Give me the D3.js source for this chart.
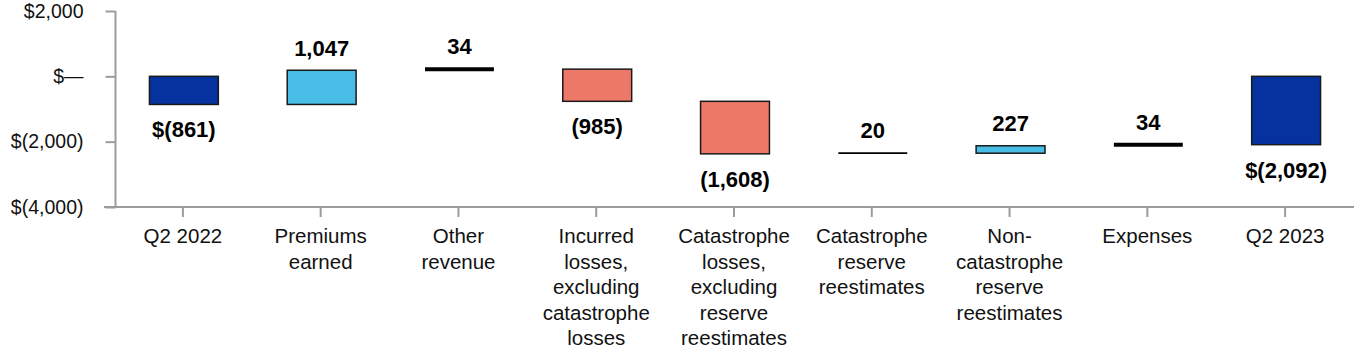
<!DOCTYPE html>
<html>
<head>
<meta charset="utf-8">
<script src="https://cdn.jsdelivr.net/npm/d3@7"></script>
<style>
  html, body { margin: 0; padding: 0; background: #fff; }
  svg { display: block; }
  text { font-family: "Liberation Sans", Arial, Helvetica, sans-serif; }
</style>
</head>
<body>
<svg id="chart" width="1364" height="360"></svg>
<script>
// ---- data ----
const categories = [
  ["Q2 2022"],
  ["Premiums", "earned"],
  ["Other", "revenue"],
  ["Incurred", "losses,", "excluding", "catastrophe", "losses"],
  ["Catastrophe", "losses,", "excluding", "reserve", "reestimates"],
  ["Catastrophe", "reserve", "reestimates"],
  ["Non-", "catastrophe", "reserve", "reestimates"],
  ["Expenses"],
  ["Q2 2023"]
];
const values = [-861, 1047, 34, -985, -1608, 20, 227, 34, -2092];
const kinds = ["total", "up", "up", "down", "down", "up", "up", "up", "total"];
const valueLabels = ["$(861)", "1,047", "34", "(985)", "(1,608)", "20", "227", "34", "$(2,092)"];
const yTicks = [2000, 0, -2000, -4000];
const yTickLabels = ["$2,000", "$\u2014", "$(2,000)", "$(4,000)"];

// ---- layout ----
const svg = d3.select("#chart");
const keys = categories.map(c => c.join(" "));
const x = d3.scaleBand().domain(keys).range([114, 1354]).padding(0);
const y = d3.scaleLinear().domain([-4000, 2000]).range([207, 11]);

const colors = { total: "#0632a0", up: "#48bde6", down: "#ee7868" };
const thin = new Set(["Other revenue", "Catastrophe reserve reestimates", "Expenses"]);
const lineWidth = { "Other revenue": 4, "Catastrophe reserve reestimates": 1.8, "Expenses": 4 };

// compute waterfall segments
let running = 0;
const bars = values.map((v, i) => {
  let start, end;
  if (kinds[i] === "total") { start = 0; end = v; running = v; }
  else { start = running; end = running + v; running = end; }
  return { key: keys[i], v, start, end, kind: kinds[i], label: valueLabels[i] };
});

// axes
const axisColor = "#9c9c9c";
const yAxis = d3.axisLeft(y).tickValues(yTicks).tickFormat((d, i) => yTickLabels[i]).tickSize(10).tickPadding(22);
const gy = svg.append("g").attr("transform", "translate(115.5,0)").call(yAxis);
gy.select(".domain").attr("stroke", axisColor).attr("stroke-width", 2).attr("d", `M0,${y(2000)}V${y(-4000)}`);
gy.selectAll(".tick line").attr("stroke", axisColor).attr("stroke-width", 2);
gy.selectAll(".tick text").attr("font-size", 19.5).attr("fill", "#111").attr("font-family", "Liberation Sans, Arial, sans-serif");

const xAxis = d3.axisBottom(x).tickSize(10).tickFormat("");
const gx = svg.append("g").attr("transform", `translate(0,${y(-4000)})`).call(xAxis);
gx.select(".domain").attr("stroke", axisColor).attr("stroke-width", 2).attr("d", `M104,0H1354`);
gx.selectAll(".tick line").attr("stroke", axisColor).attr("stroke-width", 2);

// category labels
const lab = svg.append("g");
keys.forEach((k, i) => {
  const cx = x(k) + x.bandwidth() / 2;
  const t = lab.append("text")
    .attr("transform", `translate(${cx},243)`)
    .attr("text-anchor", "middle")
    .attr("font-size", 20.5)
    .attr("fill", "#111");
  categories[i].forEach((line, j) => {
    t.append("tspan").attr("x", 0).attr("y", j * 25.6).text(line);
  });
});

// bars
const bw = x.bandwidth() * 0.5;
const g = svg.append("g");
bars.forEach(b => {
  const bx = x(b.key) + x.bandwidth() / 2 - bw / 2 + 1;
  const top = y(Math.max(b.start, b.end));
  const bot = y(Math.min(b.start, b.end));
  if (thin.has(b.key)) {
    const ly = y(b.end);
    g.append("line").attr("x1", bx).attr("x2", bx + bw).attr("y1", ly).attr("y2", ly)
      .attr("stroke", "#000").attr("stroke-width", lineWidth[b.key]);
  } else {
    g.append("rect").attr("x", bx).attr("y", top).attr("width", bw).attr("height", bot - top)
      .attr("fill", colors[b.kind]).attr("stroke", "#1a1a1a").attr("stroke-width", 1.5);
  }
  // value label
  const above = b.kind !== "total" && b.v > 0;
  const ty = above ? top - 14.5 : bot + 33;
  g.append("text").attr("x", bx + bw / 2).attr("y", above && thin.has(b.key) ? y(b.end) - 15 : ty)
    .attr("text-anchor", "middle").attr("font-size", 22).attr("font-weight", "bold")
    .attr("fill", "#000").text(b.label);
});
</script>
</body>
</html>
